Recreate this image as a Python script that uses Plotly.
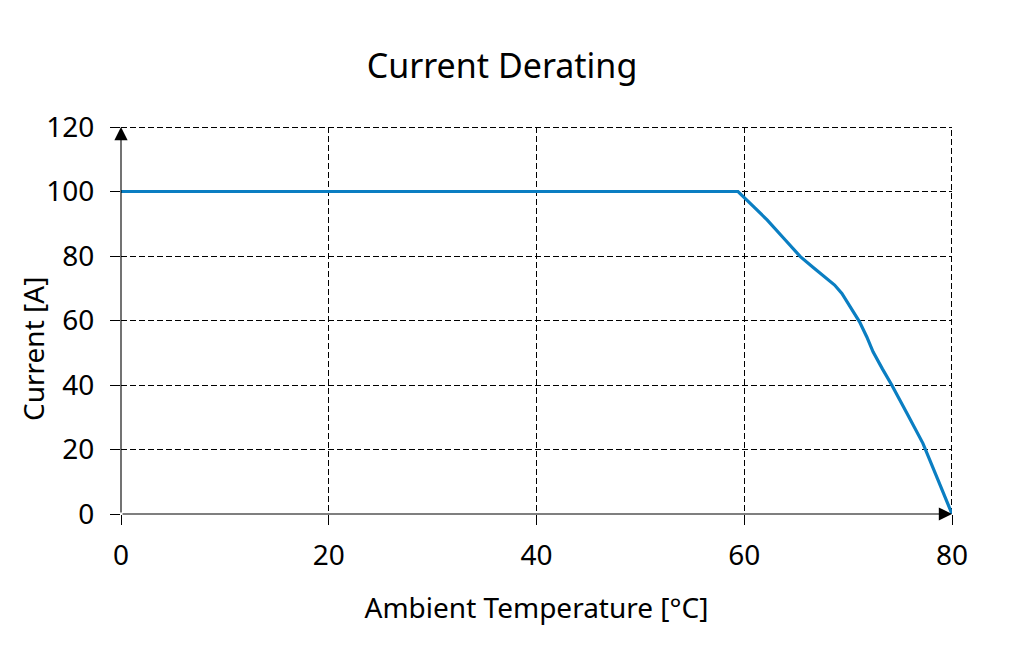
import plotly.graph_objects as go

temperature = [0, 59.4, 60.8, 62.2, 63.8, 65.4, 66.7, 67.9, 68.7, 69.4, 70.0, 70.6, 71.1, 71.8, 72.4, 73.3, 74.2, 75.7, 77.2, 78.6, 80.0]
current = [100, 100, 95.6, 91.2, 85.5, 79.8, 76.3, 73.1, 71.0, 68.4, 65.3, 62.6, 59.6, 54.9, 50.3, 45.0, 40.0, 31.0, 21.9, 11.0, 0]
x_ticks = [0, 20, 40, 60, 80]
y_ticks = [0, 20, 40, 60, 80, 100, 120]

FONT = "Noto Sans"

fig = go.Figure()
fig.add_trace(go.Scatter(x=temperature, y=current, mode="lines",
                         line=dict(color="#0A7EC2", width=3.2),
                         showlegend=False, hoverinfo="skip"))

# dashed border lines at the range ends (top and right), nudged half a pixel inward for crispness
half_px_y = 0.5 * 120 / 387
half_px_x = 0.5 * 80 / 831
fig.add_shape(type="line", xref="x", yref="y", x0=0, x1=80,
              y0=120 - half_px_y, y1=120 - half_px_y,
              line=dict(color="black", width=1, dash="6px,3px"), layer="below")
fig.add_shape(type="line", xref="x", yref="y", x0=80 - half_px_x, x1=80 - half_px_x, y0=0, y1=120,
              line=dict(color="black", width=1, dash="6px,3px"), layer="below")

# axis lines with arrowheads
fig.add_annotation(x=80, y=0, ax=0, ay=0, xref="x", yref="y", axref="x", ayref="y",
                   showarrow=True, arrowhead=2, arrowsize=2.4, arrowwidth=1.1,
                   arrowcolor="black", text="")
fig.add_annotation(x=0, y=120, ax=0, ay=0, xref="x", yref="y", axref="x", ayref="y",
                   showarrow=True, arrowhead=2, arrowsize=2.4, arrowwidth=1.1,
                   arrowcolor="black", text="")

axis_common = dict(showgrid=True, gridcolor="black", griddash="6px,3px", gridwidth=0.8,
                   zeroline=False, showline=False, ticks="outside", ticklen=10,
                   tickcolor="black", tickwidth=0.9,
                   tickfont=dict(family=FONT, size=28, color="black"))

fig.update_xaxes(range=[0, 80], tickvals=x_ticks, ticktext=[str(v) for v in x_ticks],
                 ticklabelstandoff=6,
                 title=dict(text="Ambient Temperature [°C]", font=dict(family=FONT, size=28, color="black"), standoff=26),
                 **axis_common)
fig.update_yaxes(range=[0, 120], tickvals=y_ticks, ticktext=[str(v) for v in y_ticks],
                 ticklabelstandoff=10,
                 **axis_common)

fig.add_annotation(text="Current [A]", xref="paper", yref="paper",
                   x=(33 - 121) / 831, y=(514 - 349) / 387,
                   xanchor="center", yanchor="middle", textangle=-90, showarrow=False,
                   font=dict(family=FONT, size=28, color="black"))

fig.update_layout(
    width=1024, height=662,
    margin=dict(l=121, r=72, t=127, b=148),
    paper_bgcolor="white", plot_bgcolor="white",
    title=dict(text="Current Derating", x=502/1024, xanchor="center", y=1-66/662, yanchor="middle",
               font=dict(family=FONT, size=34, color="black")),
    font=dict(family=FONT, color="black"),
)

fig.write_html("out.html")
